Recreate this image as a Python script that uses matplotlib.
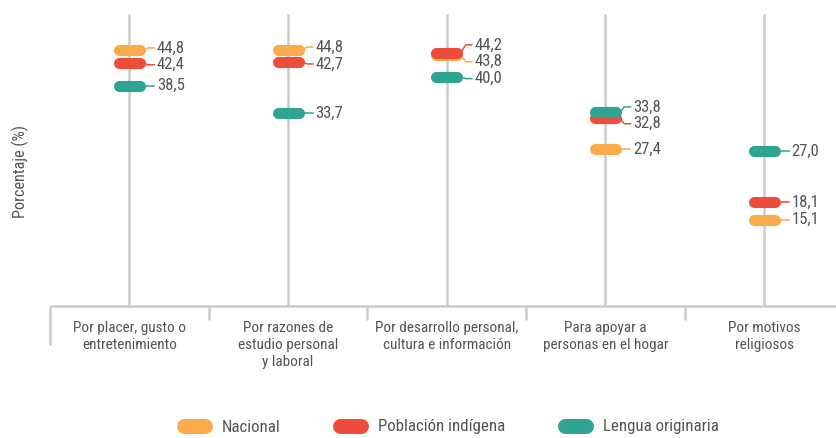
import matplotlib
matplotlib.use("Agg")
import matplotlib.pyplot as plt
from matplotlib.lines import Line2D
import numpy as np

categories = [
    "Por placer, gusto o\nentretenimiento",
    "Por razones de\nestudio personal\ny laboral",
    "Por desarrollo personal,\ncultura e información",
    "Para apoyar a\npersonas en el hogar",
    "Por motivos\nreligiosos",
]
series_names = ["Nacional", "Población indígena", "Lengua originaria"]
nacional = [44.8, 44.8, 43.8, 27.4, 15.1]
indigena = [42.4, 42.7, 44.2, 32.8, 18.1]
lengua = [38.5, 33.7, 40.0, 33.8, 27.0]
series_values = [nacional, indigena, lengua]
colors = ["#FCAB4B", "#EF4D3C", "#2FA493"]

FONT = ["Roboto Condensed", "Liberation Sans Narrow", "DejaVu Sans"]
plt.rcParams["font.family"] = FONT
plt.rcParams["font.stretch"] = "condensed"
TXT = "#555555"
GRID = "#cccccc"

W, H = 836, 438
fig = plt.figure(figsize=(W / 100, H / 100), dpi=100)
ax_left, ax_right, ax_bot, ax_top = 50, 836, 306, 10
ax = fig.add_axes([ax_left / W, 1 - ax_bot / H, (ax_right - ax_left) / W, (ax_bot - ax_top) / H])
step = 158.7
ax.set_xlim(-0.5, -0.5 + (ax_right - ax_left) / step)
ax.set_ylim(0, 51.7)
ax.axis("off")

xs = np.arange(len(categories))
px = 1.0 / step  # data units per pixel in x

# vertical guide lines
ax.vlines(xs, 0, 51.0, color=GRID, lw=1.8, zorder=1)

# bracket at bottom
ax.plot([-0.5, ax.get_xlim()[1]], [0, 0], color=GRID, lw=1.8, zorder=1, clip_on=False,
        solid_capstyle="butt")
xt = ax.get_xaxis_transform()
ax.vlines([-0.5], -39 / 296, 0, color=GRID, lw=1.8, transform=xt, clip_on=False)
ax.vlines(xs[:-1] + 0.5, -14 / 296, 0, color=GRID, lw=1.8, transform=xt, clip_on=False)

# label positions (avoid overlap)
sep = 2.95
half = 10.5 * px
for i in xs:
    vals = [s[i] for s in series_values]
    order = sorted(range(3), key=lambda k: -vals[k])
    pos = [vals[k] for k in order]
    for _ in range(200):
        for j in range(len(pos) - 1):
            gap = pos[j] - pos[j + 1]
            if gap < sep:
                d = (sep - gap) / 2
                pos[j] += d
                pos[j + 1] -= d
    label_y = {order[j]: pos[j] for j in range(3)}
    ranks = {k: r for r, k in enumerate(sorted(range(3), key=lambda k: vals[k]))}
    for k in range(3):
        v = vals[k]
        ly = label_y[k]
        z = 3 + ranks[k] * 2
        ax.plot([i - half, i + half], [v, v], color=colors[k], lw=8,
                solid_capstyle="round", zorder=z + 1)
        ax.plot([i, i + 14 * px, i + 19 * px, i + 25 * px], [v, v, ly, ly],
                color=colors[k], lw=1.1, zorder=z)
        ax.text(i + 27.5 * px, ly, f"{v:.1f}".replace(".", ","), fontsize=12,
                color=TXT, ha="left", va="center", zorder=10)

# category labels
for i, lab in zip(xs, categories):
    ax.annotate(lab, xy=(i, 0), xycoords=("data", "axes fraction"),
                xytext=(0, -10.5), textcoords="offset points",
                ha="center", va="top", fontsize=11, color=TXT, linespacing=1.3)

fig.text(20 / W, 1 - 171 / H, "Porcentaje (%)", rotation=90, fontsize=11.7,
         color=TXT, ha="center", va="center")

handles = [Line2D([], [], color=c, lw=10.8, solid_capstyle="round") for c in colors]
fig.legend(handles, series_names, loc="center left",
           bbox_to_anchor=(184 / W, 1 - 427 / H), bbox_transform=fig.transFigure,
           ncol=3, frameon=False, fontsize=12.2, handlelength=1.25,
           handletextpad=1.0, columnspacing=3.5, borderpad=0, borderaxespad=0,
           labelcolor=TXT)

fig.savefig("out.png", dpi=100)
